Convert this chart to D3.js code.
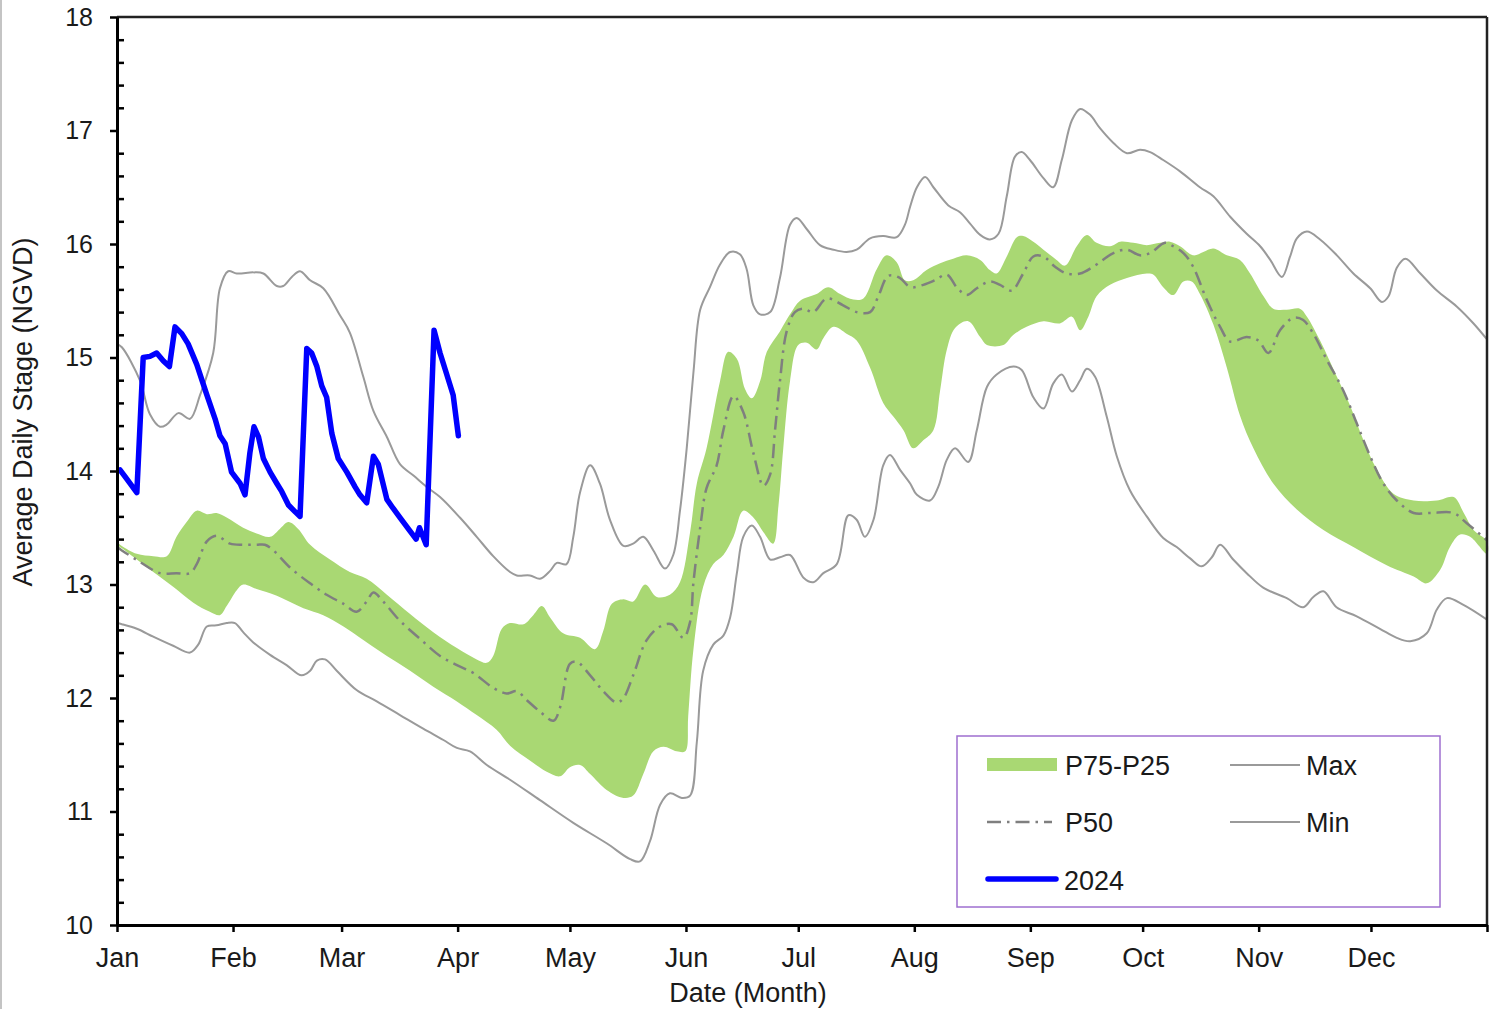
<!DOCTYPE html>
<html lang="en">
<head>
<meta charset="utf-8">
<title>Average Daily Stage</title>
<script src="https://d3js.org/d3.v7.min.js"></script>
<style>
    body { margin: 0; background: #fff; }
    svg { display: block; font-family: "Liberation Sans", Arial, sans-serif; }
    .axis text { fill: #1a1a1a; }
    .x.axis text { font-size: 27px; }
    .y.axis text { font-size: 25px; }
    .axis .domain { stroke: #000; stroke-width: 3px; }
    .axis line { stroke: #000; stroke-width: 2.5px; }
</style>
</head>
<body>
<script>
// day of year (2024, leap year) and stage in ft NGVD
const monthStarts = [0, 31, 60, 91, 121, 152, 182, 213, 244, 274, 305, 335, 366];
const monthLabels = ["Jan", "Feb", "Mar", "Apr", "May", "Jun", "Jul", "Aug", "Sep", "Oct", "Nov", "Dec", ""];
const yMajor = [10, 11, 12, 13, 14, 15, 16, 17, 18];

const maxStage = [[0,15.12],[1.3,15.09],[6.1,14.8],[8.8,14.5],[11.5,14.39],[13.3,14.41],[16.4,14.51],[19.5,14.46],[22.2,14.67],[25.7,15.04],[27.5,15.61],[29.7,15.76],[32,15.74],[36.4,15.75],[39.1,15.74],[42.7,15.63],[44.4,15.63],[46.7,15.71],[48.9,15.76],[51.6,15.68],[55.1,15.61],[59.6,15.37],[62.2,15.22],[65.8,14.83],[68.5,14.53],[72.1,14.3],[75.6,14.06],[79.2,13.96],[82.7,13.86],[86.3,13.77],[91.6,13.59],[96.1,13.42],[100.5,13.25],[105,13.11],[106.8,13.08],[110.3,13.08],[113,13.05],[115.7,13.12],[117.5,13.19],[120.1,13.18],[121.9,13.42],[123.7,13.81],[126.4,14.05],[129,13.89],[131.7,13.57],[135.3,13.34],[137.9,13.36],[140.6,13.42],[143.3,13.3],[146.4,13.14],[148.6,13.26],[150.4,13.65],[152.2,14.2],[154,14.87],[155.8,15.42],[158.4,15.62],[161.1,15.82],[163.8,15.93],[166.4,15.91],[168.2,15.78],[170,15.46],[171.8,15.38],[174.5,15.4],[177.1,15.7],[179.8,16.17],[181.6,16.23],[184.3,16.13],[187.8,15.99],[191.4,15.95],[194.9,15.93],[197.6,15.95],[201.2,16.05],[204.7,16.07],[208.3,16.06],[210.5,16.17],[211.9,16.33],[213.7,16.5],[215.9,16.59],[218.1,16.5],[222.1,16.34],[225.2,16.28],[227.9,16.18],[230.6,16.08],[233.2,16.04],[235.5,16.09],[237.7,16.42],[239.9,16.77],[241.7,16.81],[243.9,16.74],[247.5,16.58],[250.1,16.5],[252.4,16.74],[255.1,17.09],[257.3,17.19],[259.9,17.14],[262.6,17.02],[266.2,16.89],[269.8,16.8],[273.3,16.83],[276,16.81],[279.5,16.74],[284,16.64],[289.3,16.5],[292.9,16.42],[297.4,16.24],[301.8,16.09],[305.4,15.98],[308.1,15.86],[311.2,15.71],[313.4,15.89],[315.2,16.05],[317.9,16.11],[321.4,16.04],[325.9,15.9],[330.3,15.74],[334.8,15.61],[337.9,15.49],[339.7,15.54],[341.9,15.79],[344.2,15.87],[348.2,15.74],[352.6,15.59],[357.9,15.45],[362.4,15.3],[366,15.16]];

const minStage = [[0,12.66],[1.3,12.65],[5.3,12.61],[9.7,12.54],[15,12.46],[19.5,12.4],[21.7,12.47],[24,12.63],[26.6,12.64],[29.3,12.66],[31.5,12.66],[33.7,12.58],[36.4,12.49],[40.9,12.38],[45.3,12.29],[49.3,12.2],[51.6,12.24],[53.4,12.33],[55.6,12.34],[58.7,12.24],[64,12.07],[69.4,11.97],[75.6,11.85],[81.8,11.73],[87.2,11.63],[90.8,11.56],[94.3,11.53],[98.8,11.41],[105,11.28],[113,11.1],[121.9,10.9],[130.8,10.72],[137.1,10.58],[139.7,10.56],[142.4,10.74],[145.1,11.06],[147.7,11.16],[150.9,11.12],[153.1,11.14],[154.9,11.61],[156.6,12.24],[159.3,12.47],[162,12.55],[163.8,12.71],[165.6,13.1],[167.3,13.42],[169.6,13.52],[171.8,13.42],[174.5,13.22],[177.1,13.24],[179.8,13.26],[183.4,13.06],[186,13.02],[188.7,13.1],[192.3,13.18],[195.4,13.61],[197.6,13.57],[199.8,13.42],[202.1,13.57],[204.7,14.05],[206.5,14.14],[209.2,14.01],[211.9,13.89],[213.7,13.79],[217.2,13.74],[219.4,13.86],[221.7,14.1],[223.9,14.2],[227.4,14.08],[229.7,14.36],[232.4,14.74],[235,14.85],[239.5,14.92],[241.7,14.89],[244.8,14.65],[247.5,14.55],[250.1,14.77],[252.4,14.85],[255.1,14.7],[257.3,14.8],[259.1,14.9],[261.3,14.83],[264.4,14.48],[267.1,14.13],[270.6,13.83],[275.1,13.6],[279.5,13.41],[283.1,13.33],[286.7,13.23],[289.8,13.16],[292.5,13.24],[294.7,13.35],[298.2,13.22],[301.8,13.1],[306.3,12.97],[312.5,12.88],[316.9,12.8],[319.6,12.89],[322.3,12.94],[325.8,12.8],[331.2,12.72],[337.4,12.61],[341.9,12.53],[345.5,12.5],[349.9,12.57],[352.6,12.78],[355.3,12.88],[359.7,12.82],[366,12.69]];

const p50Stage = [[0,13.33],[1.3,13.3],[6.1,13.2],[11.5,13.1],[15.9,13.1],[19.5,13.1],[21.3,13.18],[24,13.38],[26.6,13.43],[30.2,13.36],[33.7,13.35],[37.3,13.35],[39.5,13.35],[41.8,13.3],[46.2,13.15],[51.6,13.01],[56,12.91],[60.5,12.83],[64,12.76],[66.7,12.85],[68.5,12.93],[71.1,12.85],[75.6,12.68],[81,12.52],[86.3,12.37],[90.8,12.29],[95.2,12.22],[100.5,12.09],[104.1,12.04],[106.8,12.06],[109.5,11.98],[113,11.88],[116.6,11.8],[118.4,11.92],[121,12.3],[122.8,12.32],[126.4,12.2],[129.9,12.06],[133.5,11.96],[135.3,12],[137.9,12.2],[141.5,12.51],[145.1,12.63],[148.2,12.65],[151.3,12.53],[153.1,12.67],[154,13.02],[155.8,13.5],[157.5,13.85],[160.2,14.05],[162,14.36],[164.7,14.66],[167.3,14.52],[170,14.16],[172.7,13.87],[174.5,13.97],[175.8,14.36],[177.1,14.79],[178.9,15.23],[181.1,15.4],[183.4,15.43],[186,15.4],[189.6,15.52],[194,15.46],[197.6,15.4],[201.2,15.4],[203.4,15.54],[206.1,15.72],[209.2,15.7],[211.9,15.62],[215.4,15.64],[218.5,15.68],[221.7,15.73],[224.3,15.62],[227,15.55],[229.7,15.61],[233.2,15.67],[235.9,15.64],[239,15.59],[242.1,15.74],[244.8,15.89],[247.5,15.89],[250.6,15.8],[253.7,15.74],[257.3,15.74],[260.8,15.8],[266.2,15.92],[269.8,15.95],[273.3,15.9],[276,15.92],[280,16.01],[282.2,15.98],[284.9,15.92],[287.5,15.8],[291.1,15.51],[294.7,15.27],[297.4,15.14],[301.8,15.18],[304.9,15.15],[307.6,15.04],[310.7,15.24],[314.3,15.35],[316.9,15.33],[319.6,15.21],[323.2,14.98],[327.6,14.71],[331.2,14.42],[334.8,14.13],[338.3,13.89],[341.9,13.74],[346.4,13.63],[350.8,13.63],[357,13.63],[360.6,13.54],[366,13.39]];

const p75Stage = [[0,13.37],[1.3,13.34],[5.3,13.27],[9.7,13.25],[13.3,13.25],[15.9,13.42],[18.6,13.55],[21.3,13.65],[24,13.62],[26.6,13.63],[29.3,13.59],[33.7,13.5],[37.3,13.45],[40.9,13.42],[43.5,13.49],[45.8,13.55],[48.4,13.49],[51.6,13.35],[56.9,13.22],[62.2,13.11],[66.7,13.05],[72.1,12.91],[78.3,12.74],[84.5,12.58],[90.8,12.44],[96.1,12.34],[98.8,12.31],[100.5,12.37],[102.8,12.61],[105,12.66],[108.6,12.65],[111.2,12.73],[113.5,12.81],[115.7,12.71],[119.2,12.57],[123.7,12.53],[127.7,12.43],[129.9,12.59],[132.2,12.83],[135.3,12.87],[137.9,12.85],[141.1,13],[144.2,12.89],[147.7,12.91],[150.4,13.02],[153.1,13.46],[154.9,13.89],[157.5,14.2],[161.1,14.79],[163.3,15.05],[165.6,14.99],[167.8,14.72],[169.6,14.64],[171.8,14.79],[173.6,15.05],[177.1,15.23],[179.8,15.38],[182.5,15.5],[186.9,15.56],[190,15.62],[193.2,15.56],[196.7,15.51],[199.4,15.52],[203,15.78],[205.6,15.9],[208.3,15.84],[210.5,15.68],[212.7,15.68],[216.3,15.77],[219.9,15.83],[223.4,15.87],[227,15.9],[230.6,15.86],[233.2,15.77],[235,15.74],[237.7,15.89],[240.4,16.06],[242.1,16.07],[244.8,16.02],[247.5,15.95],[251,15.86],[253.3,15.81],[256.4,15.98],[259.1,16.08],[261.7,16.01],[265.3,15.98],[268,16.02],[271.5,16.01],[275.1,15.99],[278.7,16.01],[281.3,16.02],[284,15.98],[287.5,15.9],[290.2,15.93],[292.9,15.96],[296.5,15.9],[300,15.86],[302.7,15.74],[306.3,15.54],[308.9,15.43],[312.5,15.42],[316,15.43],[317.9,15.36],[321.4,15.15],[325.9,14.83],[329.5,14.57],[333,14.27],[336.6,14.01],[341,13.8],[346.4,13.74],[352.6,13.74],[357.1,13.77],[359.8,13.63],[362.4,13.48],[366,13.38]];

const p25Stage = [[0,13.35],[1.3,13.32],[5.3,13.22],[9.7,13.11],[15,12.98],[20.4,12.84],[24.8,12.76],[27.5,12.73],[29.3,12.81],[32,12.95],[33.7,13],[37.3,12.96],[42.7,12.9],[49.8,12.79],[55.1,12.73],[60.5,12.63],[65.8,12.51],[72.1,12.37],[78.3,12.24],[84.5,12.1],[90.8,11.97],[96.1,11.85],[101.4,11.72],[105,11.58],[110.3,11.45],[114.8,11.35],[118.4,11.31],[121,11.39],[123.7,11.41],[126.4,11.33],[130.8,11.19],[135.3,11.12],[137.9,11.14],[140.6,11.33],[143.3,11.53],[146,11.57],[149.5,11.53],[151.8,11.53],[152.6,11.84],[154,12.43],[156.6,12.98],[159.3,13.18],[162,13.26],[164.7,13.42],[167.3,13.65],[170,13.59],[172.7,13.46],[175.3,13.36],[176.7,13.69],[178,14.2],[179.8,14.79],[182,15.11],[184.3,15.13],[186.9,15.07],[188.7,15.17],[191.4,15.27],[194.9,15.21],[197.6,15.15],[201.2,14.91],[204.7,14.6],[207.4,14.48],[210.1,14.36],[212.7,14.2],[215.4,14.27],[218.1,14.36],[219.9,14.71],[221.7,15.07],[223.9,15.26],[227.4,15.32],[230.6,15.18],[232.4,15.11],[236.8,15.11],[239.5,15.2],[243,15.27],[247.5,15.32],[251.9,15.3],[255.1,15.36],[257.3,15.24],[259.5,15.36],[261.7,15.54],[265.3,15.64],[269.8,15.7],[275.1,15.74],[276.9,15.73],[279.5,15.62],[282.2,15.55],[284.9,15.67],[287.1,15.67],[289.3,15.56],[292.9,15.29],[296.5,14.91],[300,14.49],[303.6,14.2],[308.9,13.89],[315.2,13.66],[322.3,13.48],[330.3,13.33],[339.2,13.17],[346.4,13.07],[349.9,13.01],[353.5,13.13],[356.1,13.33],[358.8,13.44],[361.5,13.42],[366,13.27]];

const stage2024 = [[0.8,14.01],[2.6,13.93],[5.3,13.81],[7,15],[8.8,15.01],[10.6,15.04],[12.4,14.97],[14,14.92],[15.5,15.27],[17.3,15.21],[19,15.12],[21.3,14.94],[24,14.67],[26.2,14.46],[27.5,14.31],[28.9,14.24],[30.6,13.99],[32.9,13.89],[34.2,13.79],[35.5,14.16],[36.6,14.39],[37.8,14.3],[39.1,14.11],[40.9,13.99],[42.7,13.89],[44,13.82],[45.8,13.7],[47.6,13.64],[48.9,13.6],[50.7,15.08],[52,15.04],[53.4,14.92],[54.7,14.75],[56,14.65],[57.4,14.33],[59.1,14.11],[61.4,13.99],[63.6,13.86],[64.9,13.79],[66.7,13.72],[68.5,14.13],[69.8,14.06],[72.1,13.75],[73.8,13.67],[75.6,13.59],[78.3,13.47],[79.9,13.4],[80.8,13.5],[82.6,13.35],[84.7,15.24],[86.3,15.04],[88.1,14.85],[89.8,14.67],[91.2,14.31]];

const w = 1502, h = 1009;
const svg = d3.select("body").append("svg")
    .attr("width", w)
    .attr("height", h);

// thin frame line at the left edge of the picture
svg.append("line")
    .attr("x1", 1).attr("x2", 1).attr("y1", 0).attr("y2", h)
    .attr("stroke", "#b0b0b0").attr("stroke-width", 1.5);

const x = d3.scaleLinear().domain([0, 366]).range([117, 1487]);
const y = d3.scaleLinear().domain([10, 18]).range([925, 17]);

const smooth = d3.line()
    .x(d => x(d[0]))
    .y(d => y(d[1]))
    .curve(d3.curveCatmullRom.alpha(0.5));

// P75-P25 band: upper edge forward, lower edge back
const band = p75Stage.concat(p25Stage.slice().reverse());
svg.append("path")
    .attr("d", d3.line().x(d => x(d[0])).y(d => y(d[1])).curve(d3.curveCatmullRomClosed.alpha(0.5))(band))
    .attr("fill", "#a9d873")
    .attr("stroke", "none");

svg.append("path")
    .attr("d", smooth(maxStage))
    .attr("fill", "none").attr("stroke", "#9a9a9a").attr("stroke-width", 2);

svg.append("path")
    .attr("d", smooth(minStage))
    .attr("fill", "none").attr("stroke", "#9a9a9a").attr("stroke-width", 2);

svg.append("path")
    .attr("d", smooth(p50Stage))
    .attr("fill", "none").attr("stroke", "#7f7f7f").attr("stroke-width", 2.5)
    .attr("stroke-dasharray", "14,6,2.5,6");

svg.append("path")
    .attr("d", d3.line().x(d => x(d[0])).y(d => y(d[1]))(stage2024))
    .attr("fill", "none").attr("stroke", "#0000ff").attr("stroke-width", 5.5)
    .attr("stroke-linejoin", "round").attr("stroke-linecap", "round");

// plot frame, top and right
svg.append("line")
    .attr("x1", x(0)).attr("x2", x(366)).attr("y1", y(18)).attr("y2", y(18))
    .attr("stroke", "#222").attr("stroke-width", 2.5);
svg.append("line")
    .attr("x1", x(366)).attr("x2", x(366)).attr("y1", y(18)).attr("y2", y(10))
    .attr("stroke", "#222").attr("stroke-width", 2.5);

// axes
const xAxis = d3.axisBottom(x)
    .tickValues(monthStarts)
    .tickFormat((d, i) => monthLabels[i])
    .tickSize(7).tickSizeOuter(0).tickPadding(16);
svg.append("g")
    .attr("class", "x axis")
    .attr("transform", `translate(0,${y(10)})`)
    .call(xAxis);

const yMinor = d3.range(10, 18.001, 0.2).filter(v => Math.abs(v - Math.round(v)) > 0.01);
svg.append("g")
    .attr("class", "y axis minor")
    .attr("transform", `translate(${x(0)},0)`)
    .call(d3.axisRight(y).tickValues(yMinor).tickFormat("").tickSize(7).tickSizeOuter(0))
    .select(".domain").remove();

svg.append("g")
    .attr("class", "y axis")
    .attr("transform", `translate(${x(0)},0)`)
    .call(d3.axisLeft(y).tickValues(yMajor).tickFormat(d3.format("d")).tickSize(7).tickSizeOuter(0).tickPadding(17));

// axis titles
svg.append("text")
    .attr("x", 748).attr("y", 1002)
    .attr("text-anchor", "middle")
    .attr("font-size", 27).attr("fill", "#1a1a1a")
    .text("Date (Month)");

svg.append("text")
    .attr("transform", "translate(32,412) rotate(-90)")
    .attr("text-anchor", "middle")
    .attr("font-size", 27).attr("fill", "#1a1a1a")
    .text("Average Daily Stage (NGVD)");

// legend
const legend = svg.append("g").attr("class", "legend");
legend.append("rect")
    .attr("x", 957).attr("y", 736).attr("width", 483).attr("height", 171)
    .attr("fill", "#fff").attr("stroke", "#9e6fd0").attr("stroke-width", 1.5);

legend.append("rect")
    .attr("x", 987).attr("y", 758).attr("width", 70).attr("height", 13)
    .attr("fill", "#a9d873");
legend.append("line")
    .attr("x1", 987).attr("x2", 1052).attr("y1", 822).attr("y2", 822)
    .attr("stroke", "#7f7f7f").attr("stroke-width", 2.5).attr("stroke-dasharray", "14,6,2.5,6");
legend.append("line")
    .attr("x1", 988).attr("x2", 1056).attr("y1", 879).attr("y2", 879)
    .attr("stroke", "#0000ff").attr("stroke-width", 5.5).attr("stroke-linecap", "round");
legend.append("line")
    .attr("x1", 1230).attr("x2", 1300).attr("y1", 765).attr("y2", 765)
    .attr("stroke", "#9a9a9a").attr("stroke-width", 2);
legend.append("line")
    .attr("x1", 1230).attr("x2", 1300).attr("y1", 822).attr("y2", 822)
    .attr("stroke", "#9a9a9a").attr("stroke-width", 2);

const legendText = [
    ["P75-P25", 1065, 765], ["P50", 1065, 822], ["2024", 1064, 880],
    ["Max", 1306, 765], ["Min", 1306, 822]
];
legend.selectAll("text.lab")
    .data(legendText)
    .enter()
    .append("text")
    .attr("class", "lab")
    .attr("x", d => d[1]).attr("y", d => d[2])
    .attr("dy", "0.36em")
    .attr("font-size", 27).attr("fill", "#1a1a1a")
    .text(d => d[0]);
</script>
</body>
</html>
